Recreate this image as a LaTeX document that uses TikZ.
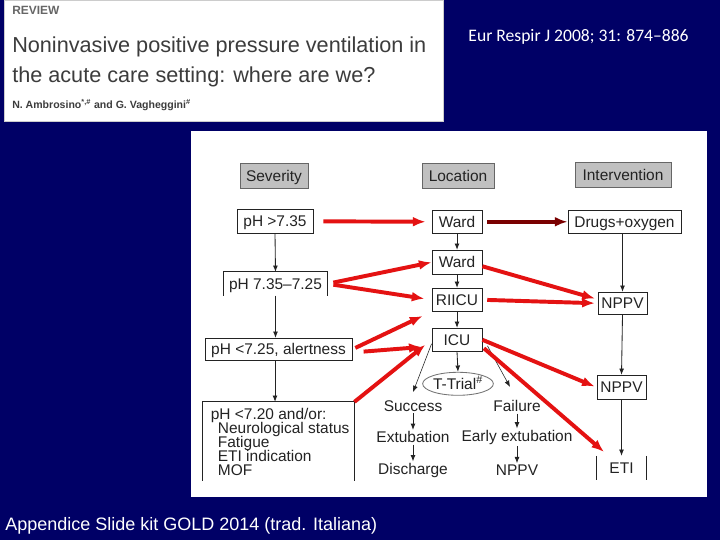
\documentclass[tikz,border=0pt]{standalone}
\usepackage{fontspec}
\setmainfont{Liberation Sans}
\newfontfamily\calibrifont[Ligatures=TeX]{Carlito}
\usetikzlibrary{arrows.meta, shapes.geometric}
\definecolor{slideNavy}{RGB}{0, 0, 102}
\definecolor{arrowRed}{RGB}{228, 18, 18}
\definecolor{darkRed}{RGB}{122, 0, 0}
\definecolor{headGray}{RGB}{192, 192, 192}
\definecolor{inkGray}{RGB}{35, 35, 35}
\definecolor{titleGray}{RGB}{60, 60, 60}
\newcommand{\tightlines}{\lineskiplimit=-20pt\relax}

\begin{document}
\begin{tikzpicture}[x=0.025cm, y=-0.025cm,
		hdr/.style     = {draw=black!60, fill=headGray, rectangle, minimum height=0.625cm,
			inner sep=1pt, text height=8pt, text depth=0pt, text=inkGray, font=\fontsize{11}{12}\selectfont},
		box/.style     = {draw=inkGray, rectangle, minimum height=0.575cm, inner sep=1pt,
			text height=8pt, text depth=0pt,
			line width=0.6pt, text=inkGray, font=\fontsize{11}{12}\selectfont},
		lbl/.style     = {inner sep=1pt, text=inkGray, font=\fontsize{11}{12}\selectfont},
		line/.style    = {-{Latex[length=4.5pt,width=3.5pt]}, inkGray, line width=0.6pt},
		redline/.style = {-{Latex[length=9pt,width=7pt]}, arrowRed, line width=2.8pt}
		]
		% slide background and panels
		\fill[slideNavy] (0,0) rectangle (720,540);
		\filldraw[fill=white, draw=black!20] (4,0) rectangle (443,121);
		\fill[white] (191,131) rectangle (707,497);
		
		\node[anchor=west, inner sep=0pt, text=black!60, font=\fontsize{8.5}{10}\selectfont\bfseries] (review) at (12,10) {REVIEW};
		\node[anchor=west, inner sep=0pt, text=titleGray, font=\fontsize{15.4}{18}\selectfont] (title1) at (12,47) {Noninvasive positive pressure ventilation in};
		\node[anchor=west, inner sep=0pt, text=titleGray, font=\fontsize{15.4}{18}\selectfont] (title2) at (12,77) {the acute care setting: where are we?};
		\node[anchor=west, inner sep=0pt, text=titleGray, font=\fontsize{7.5}{9}\selectfont\bfseries] (authors) at (12,105) {N. Ambrosino\textsuperscript{*,\#} and G. Vagheggini\textsuperscript{\#}};
		\node[text=white, font=\calibrifont\fontsize{12.5}{14}\selectfont] (journal) at (578.5,37) {Eur Respir J 2008; 31: 874--886};
		\node[anchor=west, inner sep=0pt, text=white, font=\fontsize{12.8}{15}\selectfont] (kit) at (5,526) {Appendice Slide kit GOLD 2014 (trad. Italiana)};
		
		% column heads
		\node[hdr, minimum width=1.7cm] (sev) at (274,175.5) {Severity};
		\node[hdr, minimum width=1.8cm] (loc) at (458,175.5) {Location};
		\node[hdr, minimum width=2.4cm] (intv) at (623,174.5) {Intervention};
		
		% severity
		\node[box, minimum width=1.9cm, minimum height=0.6cm] (ph1) at (275,221) {pH >7.35};
		\node[box, draw=none, minimum width=2.575cm] (ph2) at (275.5,283.5) {pH 7.35--7.25};
		\draw[inkGray, line width=0.6pt] (ph2.south west) |- (ph2.north east) -- (ph2.south east);
		\node[box, minimum width=3.675cm, minimum height=0.55cm] (ph3) at (278.5,349) {pH <7.25, alertness};
		\node[box, draw=none, minimum width=3.775cm, minimum height=1.95cm] (ph4) at (278.5,441) {};
		\draw[inkGray, line width=0.6pt] (ph4.south west) |- (ph4.north east) -- (ph4.south east);
		\node[lbl, anchor=north west, align=left, font=\fontsize{11}{10}\selectfont\tightlines]
		(ph4txt) at ([xshift=0.165cm, yshift=-0.115cm]ph4.north west)
		{pH <7.20 and/or:\\\hspace*{5pt}Neurological status\\\hspace*{5pt}Fatigue\\\hspace*{5pt}ETI indication\\\hspace*{5pt}MOF};
		
		% location
		\node[box, minimum width=1.25cm] (ward1) at (457,221.5) {Ward};
		\node[box, minimum width=1.25cm, minimum height=0.6cm] (ward2) at (457,262) {Ward};
		\node[box, minimum width=1.25cm] (riicu) at (457,299.5) {RIICU};
		\node[box, minimum width=1.25cm] (icu) at (457,339.5) {ICU};
		\node[box, ellipse, draw=black!55, minimum width=1.55cm, minimum height=0.575cm, inner sep=0pt]
		(ttrial) at (458,383.5) {T-Trial\textsuperscript{\#}};
		\node[lbl] (success) at (413,406) {Success};
		\node[lbl] (extub) at (413,437) {Extubation};
		\node[lbl] (disch) at (413,470) {Discharge};
		\node[lbl] (failure) at (517,406) {Failure};
		\node[lbl] (early) at (517,437) {Early extubation};
		\node[lbl] (nppv3) at (517,470) {NPPV};
		
		% intervention
		\node[box, minimum width=2.825cm] (drugs) at (624.5,221.5) {Drugs+oxygen};
		\node[box, minimum width=1.225cm, minimum height=0.55cm] (nppv1) at (622.5,303) {NPPV};
		\node[box, minimum width=1.225cm, minimum height=0.6cm] (nppv2) at (621.5,387) {NPPV};
		\node[box, draw=none, minimum width=1.225cm] (eti) at (621.5,467.5) {ETI};
		\draw[inkGray, line width=0.6pt] (eti.north west) -- (eti.south west) (eti.north east) -- (eti.south east);
		
		% black arrows
		\draw[line] (ph1.south) -- (ph2.north);
		\draw[line] (ph2.south) -- (ph2.south |- ph3.north);
		\draw[line] (ph1.south |- ph3.south) -- (ph1.south |- ph4.north);
		\draw[line] (ward1.south) -- (ward2.north);
		\draw[line] (ward2.south) -- (riicu.north);
		\draw[line] (riicu.south) -- (icu.north);
		\draw[line] (icu.south) -- (ttrial.north);
		\draw[line] (nppv1.north |- drugs.south) -- (nppv1.north);
		\draw[line] (nppv1.south) -- (nppv2.north);
		\draw[line] (nppv2.south) -- (eti.north);
		\draw[line] (success) -- (extub);
		\draw[line] (extub) -- (disch);
		\draw[line] (failure) -- (early);
		\draw[line] (early) -- (nppv3);
		\draw[line, line width=0.4pt] ([yshift=-0.1cm]icu.west) -- ([yshift=0.175cm]success.north);
		\draw[line, line width=0.4pt] ([xshift=0.125cm, yshift=-0.15cm]icu.east) -- ([xshift=-0.175cm, yshift=0.3cm]failure.north);
		
		% red arrows
		\draw[redline, shorten <=0.25cm, shorten >=0.15cm] (ph1.east) -- (ward1.west);
		\draw[redline, darkRed, shorten <=0.12cm] (ward1.east) -- (drugs.west);
		\draw[redline, shorten <=0.15cm] (ph2.east) -- (ward2.west);
		\draw[redline, shorten <=0.15cm, shorten >=0.18cm] (ph2.east) -- (riicu.west);
		\draw[redline, shorten <=0.08cm, shorten >=0.25cm] (ph3.east) -- (riicu.south west);
		\draw[redline, shorten <=0.28cm, shorten >=0.25cm] ([yshift=-0.08cm]ph3.east) -- ([yshift=-0.16cm]icu.west);
		\draw[redline, shorten >=0.2cm] (ph4.north east) -- (icu.west);
		\draw[redline, shorten >=0.07cm] ([yshift=-0.1cm]ward2.east) -- ([yshift=0.1cm]nppv1.west);
		\draw[redline, shorten <=0.12cm, shorten >=0.07cm] (riicu.east) -- (nppv1.west);
		\draw[redline, shorten >=0.05cm] (icu.east) -- (nppv2.west);
		\draw[redline, shorten <=0.05cm, shorten >=0.15cm] ([yshift=-0.18cm]icu.east) -- ([xshift=0.3cm]eti.north west);
	\end{tikzpicture}
\end{document}
